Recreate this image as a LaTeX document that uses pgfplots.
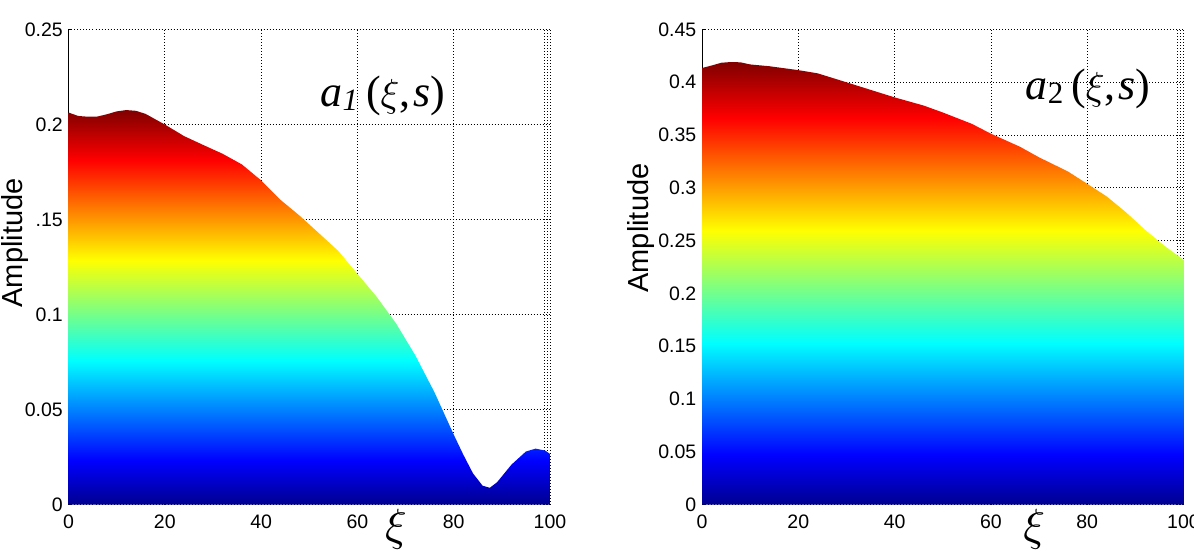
\documentclass[border=0pt]{standalone}
\usepackage{pgfplots}
\pgfplotsset{compat=1.18}
\usepackage{graphicx}
\usepackage{fontspec}
\setmainfont{Liberation Sans}
\newfontfamily\tnr{Liberation Serif}
\definecolor{j0}{rgb}{0,0,0.5625}
\definecolor{j1}{rgb}{0,0,1}
\definecolor{j2}{rgb}{0,1,1}
\definecolor{j3}{rgb}{1,1,0}
\definecolor{j4}{rgb}{1,0,0}
\definecolor{j5}{rgb}{0.5,0,0}
\pgfdeclareverticalshading{jet}{100bp}{color(0bp)=(j0); color(25bp)=(j0); color(30.56bp)=(j1); color(43.25bp)=(j2); color(55.95bp)=(j3); color(68.65bp)=(j4); color(75bp)=(j5); color(100bp)=(j5)}

\pgfplotstableread{
x y
0 0.2063
2 0.2045
4 0.2041
6 0.2042
8 0.2054
10 0.2069
12 0.2076
14 0.2072
16 0.2056
18 0.2028
20 0.2000
24 0.1939
28 0.1892
32 0.1846
36 0.1790
40 0.1706
44 0.1604
48 0.1520
52 0.1428
56 0.1335
60 0.1214
64 0.1093
68 0.0954
72 0.0786
76 0.0591
80 0.0368
82 0.0262
84 0.0164
86 0.0099
87.5 0.0088
89 0.0117
92 0.0210
95 0.0279
97 0.0294
99 0.0284
100 0.0266
}\tableA

\pgfplotstableread{
x y
0 0.4135
2 0.4159
4 0.4185
6 0.4192
8 0.4189
10 0.4169
14 0.4152
20 0.4115
24 0.4085
30 0.4000
36 0.3914
40 0.3857
46 0.3780
50 0.3714
56 0.3607
60 0.3513
66 0.3390
70 0.3289
76 0.3155
80 0.3038
84 0.2920
88 0.2770
92 0.2603
96 0.2452
100 0.2318
}\tableB

\newcommand{\bigxi}[1]{\scalebox{#1}{\fontsize{10}{12}\selectfont$\xi$}}

\pgfplotsset{
  myax/.style={
    scale only axis, width=481.5pt, height=475pt,
    anchor=south west,
    xmin=0, xmax=100, ymin=0,
    axis x line*=bottom, axis y line*=left,
    x axis line style={draw=none},
    axis line style={black, line width=0.8pt},
    grid=major,
    grid style={black, line width=0.8pt, dash pattern=on 0.8pt off 2.2pt},
    tick align=inside, major tick length=4pt,
    tick style={black, line width=0.7pt},
    xtick={0,20,40,60,80,100},
    xticklabels={0,20,40,60,80,100},
    xtick style={draw=none},
    extra x ticks={98.8,99.4},
    extra x tick labels={},
    extra x tick style={grid=major, tick style={draw=none}},
    ticklabel style={font=\fontsize{19.5}{21}\selectfont},
    xticklabel style={inner sep=0pt, anchor=north, yshift=-10.5pt},
    yticklabel style={inner sep=0pt, anchor=east, xshift=-5.5pt},
    ylabel={Amplitude},
    xlabel={\bigxi{4.5}},
    xlabel style={anchor=north, inner sep=0pt},
    ylabel style={anchor=center, inner sep=0pt, font=\fontsize{29}{29}\selectfont},
  }
}

\begin{document}
\begin{tikzpicture}
\useasboundingbox (0,0) rectangle (1194pt,555pt);

\begin{axis}[myax, at={(68.5pt,50.5pt)},
  ymax=0.25,
  ytick={0,0.05,0.1,0.15,0.2,0.25},
  yticklabels={0,0.05,0.1,.15,0.2,0.25},
  xlabel style={at={(axis description cs:0.68,0)}, yshift=-4.5pt},
  ylabel style={at={(axis description cs:-0.1111,0.5505)}},
]
\addplot[draw=none, shade, shading=jet] table[x=x, y=y] {\tableA} \closedcycle;
\node[inner sep=0pt, font=\tnr\fontsize{44}{44}\selectfont] at (axis cs:65.3,0.2153)
  {\textit{a}\raisebox{-4pt}{\fontsize{31}{31}\selectfont\textit{1}}\hspace{8pt}(\bigxi{3.9},\hspace{3pt}\textit{s})};
\end{axis}

\begin{axis}[myax, at={(702pt,50.5pt)},
  ymax=0.45,
  ytick={0,0.05,0.1,0.15,0.2,0.25,0.3,0.35,0.4,0.45},
  yticklabels={0,0.05,0.1,0.15,0.2,0.25,0.3,0.35,0.4,0.45},
  xlabel style={at={(axis description cs:0.69,0)}, yshift=-4.5pt},
  ylabel style={at={(axis description cs:-0.1268,0.582)}},
]
\addplot[draw=none, shade, shading=jet] table[x=x, y=y] {\tableB} \closedcycle;
\node[inner sep=0pt, font=\tnr\fontsize{44}{44}\selectfont] at (axis cs:80.2,0.3936)
  {\textit{a}\raisebox{-4pt}{\fontsize{31}{31}\selectfont 2}\hspace{8pt}(\bigxi{3.9},\hspace{3pt}\textit{s})};
\end{axis}
\end{tikzpicture}
\end{document}
